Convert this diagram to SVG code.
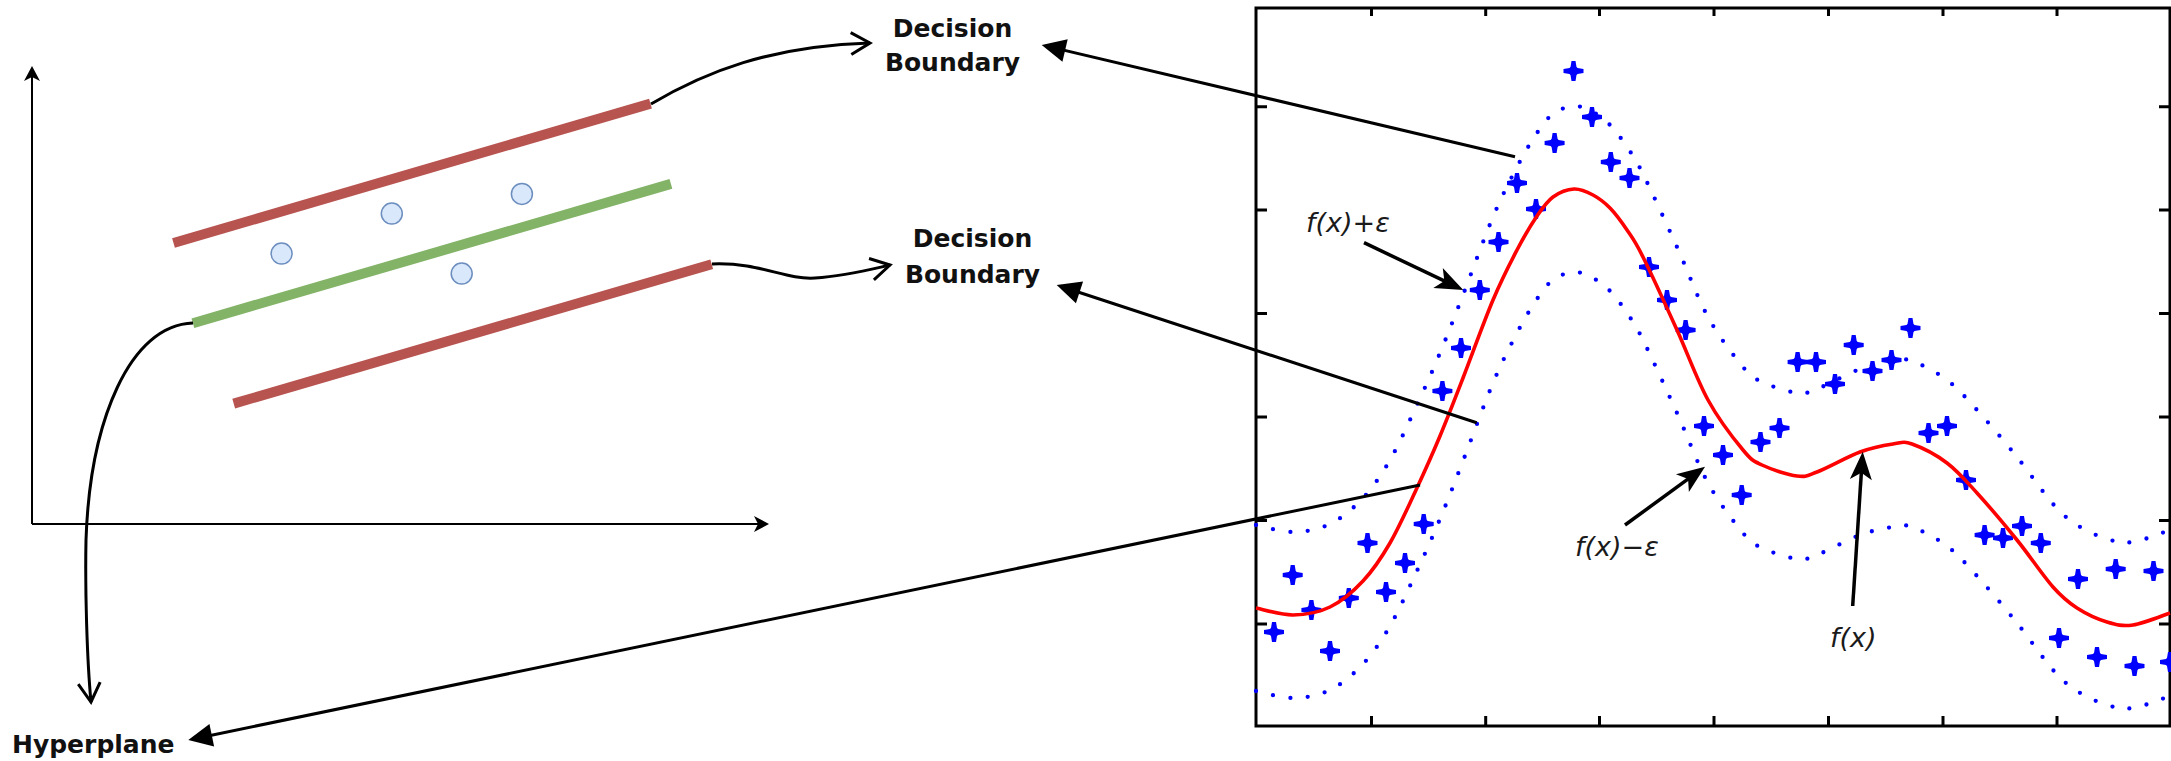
<svg xmlns="http://www.w3.org/2000/svg" xmlns:xlink="http://www.w3.org/1999/xlink" width="2171" height="761" viewBox="0 0 2171 761">
<style>
  .axis{stroke:#000;stroke-width:2;fill:none}
  .curve{stroke:#000;stroke-width:3;fill:none}
  .long{stroke:#000;stroke-width:3;fill:none}
  .parrow{stroke:#000;stroke-width:3.5;fill:none}
  .bound{stroke:#b85450;stroke-width:10;fill:none}
  .hyper{stroke:#82b366;stroke-width:10;fill:none}
  .pt{fill:#dae8fc;stroke:#6c8ebf;stroke-width:1.5}
  .lbl{font-family:"DejaVu Sans","Liberation Sans",sans-serif;font-weight:bold;font-size:25px;fill:#111}
  .math{font-family:"DejaVu Sans","Liberation Sans",sans-serif;font-style:italic;font-size:27px;fill:#1a1a1a}
  .frame{stroke:#000;stroke-width:3;fill:none}
  .tick{stroke:#000;stroke-width:3}
  .fx{stroke:#ff0000;stroke-width:3.6;fill:none;stroke-linejoin:round}
  .tube{stroke:#0000ff;stroke-width:4.3;fill:none;stroke-dasharray:0 17.5;stroke-linecap:round}
  .star{fill:#0000ff}
</style>
<defs>
  <marker id="axisArrow" viewBox="-20 -10 24 20" markerWidth="24" markerHeight="20" refX="0" refY="0" markerUnits="userSpaceOnUse" orient="auto" overflow="visible">
    <path d="M3,0 L-12,-8 L-8,0 L-12,8 Z" fill="#000"/>
  </marker>
  <marker id="openArrow" viewBox="-24 -14 28 28" markerWidth="28" markerHeight="28" refX="0" refY="0" markerUnits="userSpaceOnUse" orient="auto" overflow="visible">
    <path d="M-19,-11 L0,0 L-19,11" fill="none" stroke="#000" stroke-width="3"/>
  </marker>
  <marker id="block" viewBox="-26 -14 32 28" markerWidth="32" markerHeight="28" refX="0" refY="0" markerUnits="userSpaceOnUse" orient="auto" overflow="visible">
    <path d="M4,0 L-20,-11.5 L-20,11.5 Z" fill="#000"/>
  </marker>
  <marker id="stealth" viewBox="-30 -14 40 28" markerWidth="40" markerHeight="28" refX="0" refY="0" markerUnits="userSpaceOnUse" orient="auto" overflow="visible">
    <path d="M6,0 L-22,-11 L-15,0 L-22,11 Z" fill="#000"/>
  </marker>
  <g id="star">
    <path d="M-2,-10 L2,-10 L3,-4 L4,-3 L10,-2 L10,2 L4,3 L3,4 L2,10 L-2,10 L-3,4 L-4,3 L-10,2 L-10,-2 L-4,-3 L-3,-4 Z"/>
    <path d="M0,-6.5 L6.5,0 L0,6.5 L-6.5,0 Z"/>
  </g>
  <path id="fxPath" d="M1256,608 C1262.2,609.2 1280.7,615.2 1293,615 C1305.3,614.8 1318.3,612.7 1330,607 C1341.7,601.3 1353,591.7 1363,581 C1373,570.3 1381.2,558.2 1390,543 C1398.8,527.8 1407.7,507.8 1416,490 C1424.3,472.2 1432.2,454.7 1440,436 C1447.8,417.3 1454.2,400.7 1463,378 C1471.8,355.3 1484,321.3 1493,300 C1502,278.7 1509.7,264 1517,250 C1524.3,236 1531,224.8 1537,216 C1543,207.2 1546.8,201.5 1553,197 C1559.2,192.5 1567.3,189.3 1574,189 C1580.7,188.7 1587,191.8 1593,195 C1599,198.2 1604.3,202.2 1610,208 C1615.7,213.8 1621.5,221.8 1627,230 C1632.5,238.2 1634.7,240.3 1643,257 C1651.3,273.7 1666.2,306.2 1677,330 C1687.8,353.8 1697,380 1708,400 C1719,420 1734,439.2 1743,450 C1752,460.8 1753,460.7 1762,465 C1771,469.3 1787.8,474.8 1797,476 C1806.2,477.2 1806.5,476 1817,472 C1827.5,468 1847.3,456.7 1860,452 C1872.7,447.3 1884.3,445.3 1893,444 C1901.7,442.7 1903,440.8 1912,444 C1921,447.2 1936.2,454.8 1947,463 C1957.8,471.2 1965.3,480.2 1977,493 C1988.7,505.8 2004.3,524.3 2017,540 C2029.7,555.7 2043,575.7 2053,587 C2063,598.3 2068,602.2 2077,608 C2086,613.8 2097.7,619.2 2107,622 C2116.3,624.8 2122.5,626.5 2133,625 C2143.5,623.5 2163.8,615 2170,613"/>
</defs>

<g id="left-axes">
  <path class="axis" d="M32,524 V69" marker-end="url(#axisArrow)"/>
  <path class="axis" d="M32,524 H766" marker-end="url(#axisArrow)"/>
</g>

<g id="node-upper-boundary"><path class="bound" d="M173.5,243 L650.5,103.6"/></g>
<g id="node-hyperplane"><path class="hyper" d="M192.9,323.2 L670.9,183.9"/></g>
<g id="node-lower-boundary"><path class="bound" d="M233.7,403.6 L711.7,264.3"/></g>
<g id="node-points">
  <circle class="pt" cx="281.6" cy="253.6" r="10.5"/>
  <circle class="pt" cx="391.8" cy="213.6" r="10.5"/>
  <circle class="pt" cx="521.9" cy="193.9" r="10.5"/>
  <circle class="pt" cx="461.7" cy="273.6" r="10.5"/>
</g>

<g id="label-decision-boundary-top">
  <text class="lbl" x="952.5" y="36.5" text-anchor="middle">Decision</text>
  <text class="lbl" x="952.5" y="71" text-anchor="middle">Boundary</text>
</g>
<g id="label-decision-boundary-bottom">
  <text class="lbl" x="972.5" y="247.3" text-anchor="middle">Decision</text>
  <text class="lbl" x="972.5" y="283" text-anchor="middle">Boundary</text>
</g>
<g id="label-hyperplane">
  <text class="lbl" x="12" y="753" font-size="24.5">Hyperplane</text>
</g>

<g id="plot">
  <rect class="frame" x="1256" y="8" width="914" height="718"/>
  <g id="plot-ticks">
    <path class="tick" d="M1371.5,8V16M1485.7,8V16M1599.5,8V16M1714,8V16M1828.5,8V16M1943,8V16M2057,8V16"/>
    <path class="tick" d="M1371.5,726V716M1485.7,726V716M1599.5,726V716M1714,726V716M1828.5,726V716M1943,726V716M2057,726V716"/>
    <path class="tick" d="M1256,106.7H1267M1256,210H1267M1256,313.5H1267M1256,417H1267M1256,520.5H1267M1256,624H1267"/>
    <path class="tick" d="M2170,106.7H2159M2170,210H2159M2170,313.5H2159M2170,417H2159M2170,520.5H2159M2170,624H2159"/>
  </g>
  <g id="tube-upper"><use xlink:href="#fxPath" class="tube" transform="translate(0,-83)"/></g>
  <g id="tube-lower"><use xlink:href="#fxPath" class="tube" transform="translate(0,83)"/></g>
  <g id="samples" class="star">
    <use xlink:href="#star" transform="translate(1274,632)"/>
    <use xlink:href="#star" transform="translate(1292.7,575)"/>
    <use xlink:href="#star" transform="translate(1311.4,610)"/>
    <use xlink:href="#star" transform="translate(1330,651)"/>
    <use xlink:href="#star" transform="translate(1348.8,598)"/>
    <use xlink:href="#star" transform="translate(1367.5,543)"/>
    <use xlink:href="#star" transform="translate(1386,592)"/>
    <use xlink:href="#star" transform="translate(1405,563)"/>
    <use xlink:href="#star" transform="translate(1423.7,524)"/>
    <use xlink:href="#star" transform="translate(1442.4,391)"/>
    <use xlink:href="#star" transform="translate(1461,348)"/>
    <use xlink:href="#star" transform="translate(1479.8,290)"/>
    <use xlink:href="#star" transform="translate(1498.5,242)"/>
    <use xlink:href="#star" transform="translate(1517,183)"/>
    <use xlink:href="#star" transform="translate(1536,209)"/>
    <use xlink:href="#star" transform="translate(1554.6,143)"/>
    <use xlink:href="#star" transform="translate(1573.5,71)"/>
    <use xlink:href="#star" transform="translate(1592,117)"/>
    <use xlink:href="#star" transform="translate(1610.8,162)"/>
    <use xlink:href="#star" transform="translate(1629.5,178)"/>
    <use xlink:href="#star" transform="translate(1649,267)"/>
    <use xlink:href="#star" transform="translate(1667,300)"/>
    <use xlink:href="#star" transform="translate(1685.6,330)"/>
    <use xlink:href="#star" transform="translate(1704,426)"/>
    <use xlink:href="#star" transform="translate(1723,455)"/>
    <use xlink:href="#star" transform="translate(1741.7,495)"/>
    <use xlink:href="#star" transform="translate(1760.5,442)"/>
    <use xlink:href="#star" transform="translate(1779.5,428)"/>
    <use xlink:href="#star" transform="translate(1797.6,362)"/>
    <use xlink:href="#star" transform="translate(1816,362)"/>
    <use xlink:href="#star" transform="translate(1835,384)"/>
    <use xlink:href="#star" transform="translate(1853.7,345)"/>
    <use xlink:href="#star" transform="translate(1872.5,371)"/>
    <use xlink:href="#star" transform="translate(1891.5,360)"/>
    <use xlink:href="#star" transform="translate(1910.5,328)"/>
    <use xlink:href="#star" transform="translate(1928.5,433)"/>
    <use xlink:href="#star" transform="translate(1947,426)"/>
    <use xlink:href="#star" transform="translate(1966,480)"/>
    <use xlink:href="#star" transform="translate(1984.6,535)"/>
    <use xlink:href="#star" transform="translate(2003,538)"/>
    <use xlink:href="#star" transform="translate(2022,526)"/>
    <use xlink:href="#star" transform="translate(2040.8,543)"/>
    <use xlink:href="#star" transform="translate(2059,638)"/>
    <use xlink:href="#star" transform="translate(2078,579)"/>
    <use xlink:href="#star" transform="translate(2097,657)"/>
    <use xlink:href="#star" transform="translate(2115.7,569)"/>
    <use xlink:href="#star" transform="translate(2134.5,666)"/>
    <use xlink:href="#star" transform="translate(2153.5,571)"/>
    <use xlink:href="#star" transform="translate(2170,662)"/>
  </g>
  <g id="fx-curve"><use xlink:href="#fxPath" class="fx"/></g>
  <g id="label-fx-plus">
    <text class="math" x="1306" y="232">f(x)+ε</text>
    <path class="parrow" d="M1364,242.7 L1457.9,287.4" marker-end="url(#stealth)"/>
  </g>
  <g id="label-fx-minus">
    <text class="math" x="1575" y="556">f(x)−ε</text>
    <path class="parrow" d="M1625,525 L1700.2,470.2" marker-end="url(#stealth)"/>
  </g>
  <g id="label-fx">
    <text class="math" x="1830" y="646.5">f(x)</text>
    <path class="parrow" d="M1852.7,606 L1862.3,457.7" marker-end="url(#stealth)"/>
  </g>
</g>

<g id="connectors">
  <path class="curve" d="M651,104 C705,72 770,46 870,43" marker-end="url(#openArrow)"/>
  <path class="curve" d="M712,264 C760,262 785,280 815,278 C845,276 868,270 890,265" marker-end="url(#openArrow)"/>
  <path class="curve" d="M193,323 C130,325 90,420 86,540 C85,590 87,660 91,702" marker-end="url(#openArrow)"/>
  <path class="long" d="M1515,156.7 L1045.6,45.9" marker-end="url(#block)"/>
  <path class="long" d="M1476.7,422.7 L1060.5,286.2" marker-end="url(#block)"/>
  <path class="long" d="M1420,485 L192.2,739.2" marker-end="url(#block)"/>
</g>
</svg>
